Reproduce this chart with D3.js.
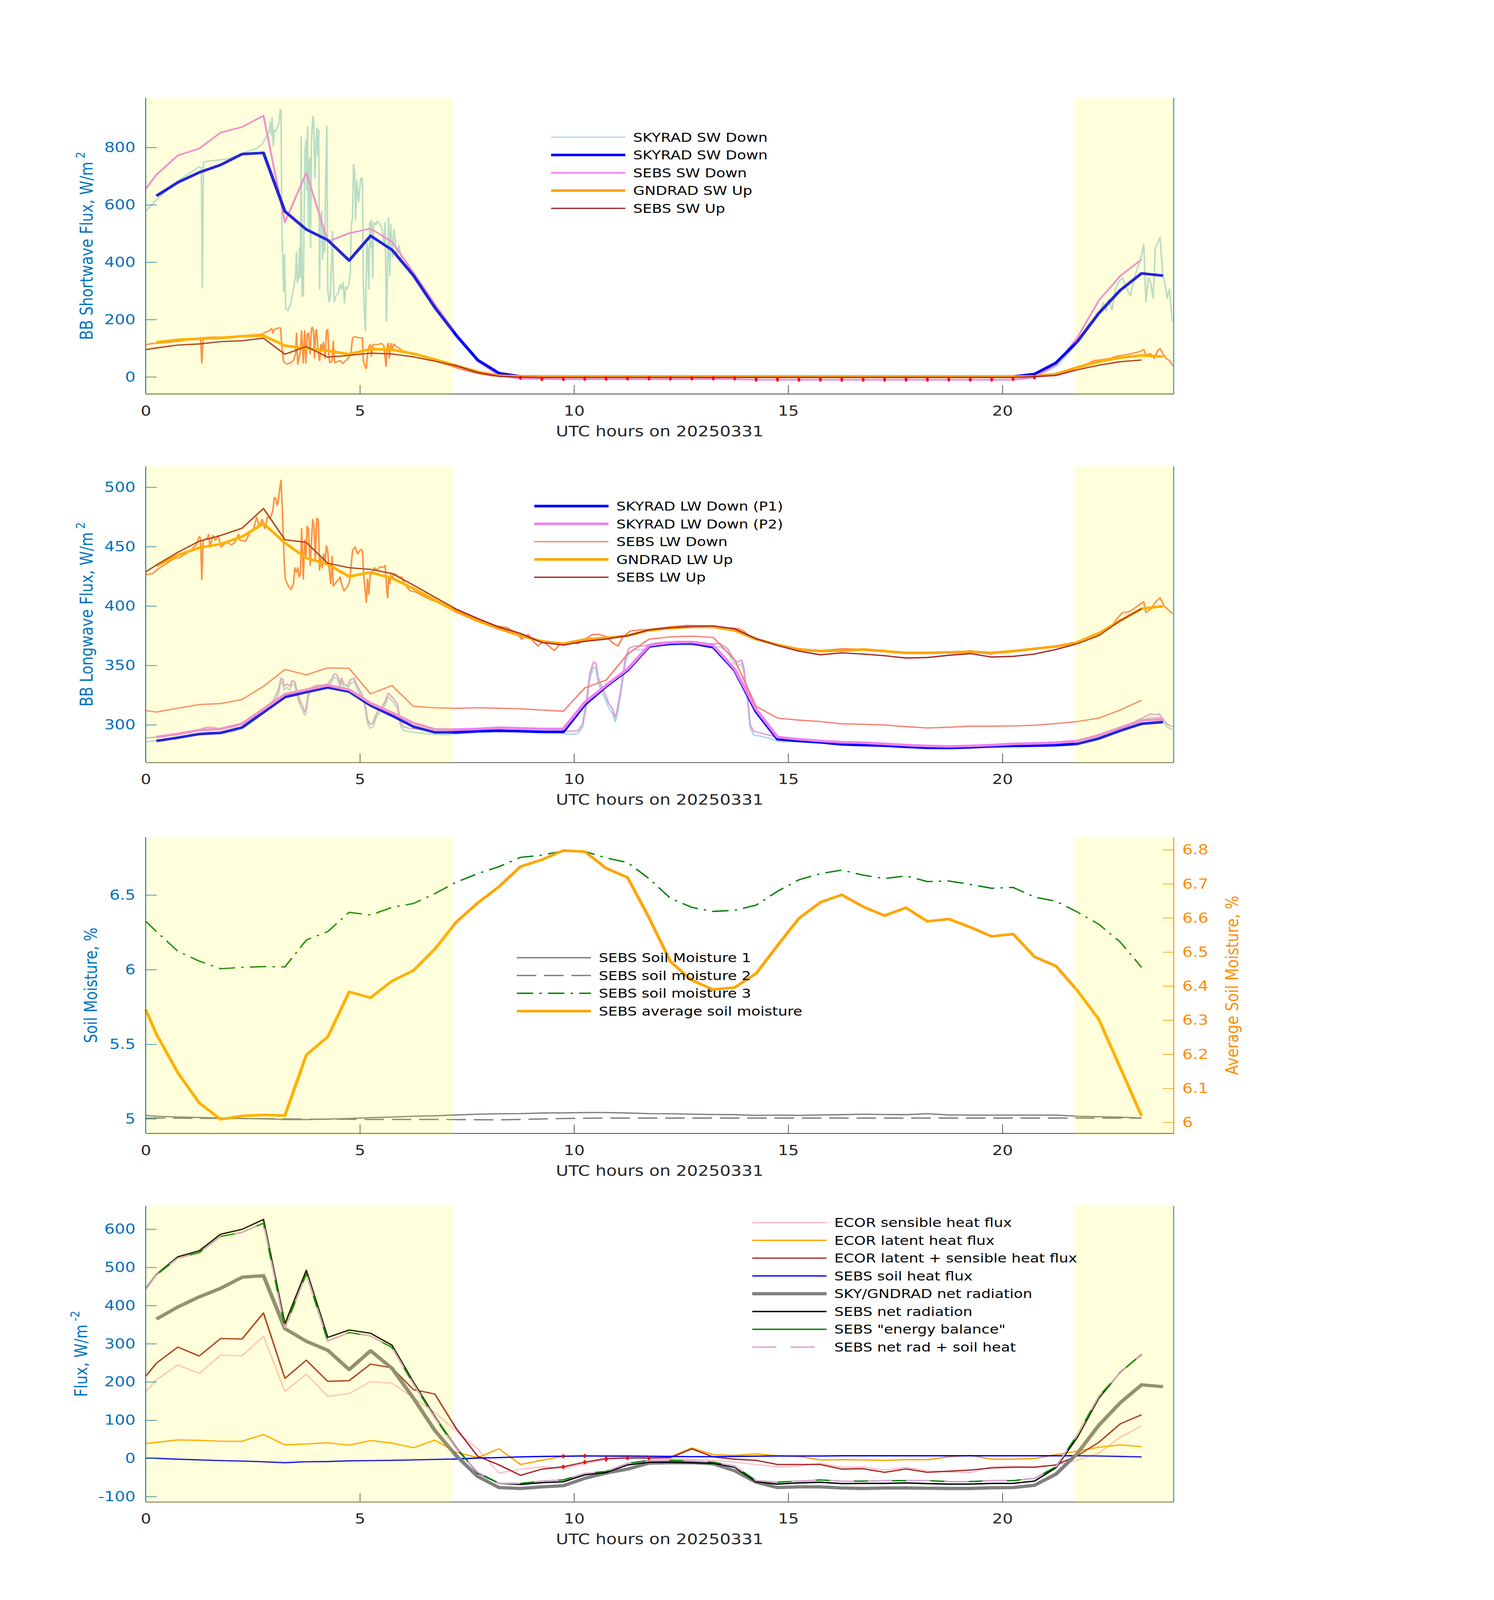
<!DOCTYPE html>
<html>
<head>
<meta charset="utf-8">
<script src="https://cdn.jsdelivr.net/npm/d3@7"></script>
<style>
  html, body { margin: 0; padding: 0; background: #fff; overflow: hidden; }
  text { font-family: "DejaVu Sans", sans-serif; }
</style>
</head>
<body>
<div id="chart"></div>
<script>
// ---------- time grids (UTC hours) ----------
const t30 = [0.25,0.75,1.25,1.75,2.25,2.75,3.25,3.75,4.25,4.75,5.25,5.75,6.25,6.75,7.25,7.75,8.25,8.75,9.25,9.75,10.25,10.75,11.25,11.75,
  12.25,12.75,13.25,13.75,14.25,14.75,15.25,15.75,16.25,16.75,17.25,17.75,18.25,18.75,19.25,19.75,20.25,20.75,21.25,21.75,22.25,22.75,23.25,23.75];
const tSebs = [0,0.25,0.75,1.25,1.75,2.25,2.75,3.25,3.75,4.25,4.75,5.25,5.75,6.25,6.75,7.25,7.75,8.25,8.75,9.25,9.75,10.25,10.75,11.25,11.75,
  12.25,12.75,13.25,13.75,14.25,14.75,15.25,15.75,16.25,16.75,17.25,17.75,18.25,18.75,19.25,19.75,20.25,20.75,21.25,21.75,22.25,22.75,23.25];

const hourTicks = [0, 5, 10, 15, 20];
const shadeSpans = [[0, 7.17], [21.68, 24]];

// ---------- panel 1: shortwave ----------
const swTicks = [0, 200, 400, 600, 800];
const skyradSwDown30 = [631,678,713,739,777,781,577,514,477,406,492,443,354,242,145,59,13,2,
  1,1,1,1,1,1,1,1,1,1,1,1,1,1,1,1,1,1,1,1,1,1,1,10,49,123,222,302,361,353];
const gndradSwUp30 = [121,129,133,136,142,144,109,99,91,79,97,95,81,61,39,18,4,2,
  1,1,1,1,1,1,1,1,1,1,1,1,1,1,1,1,1,1,1,1,1,1,1,2,10,33,53,67,75,71];
const sebsSwDown = [655,705,772,796,852,871,911,539,712,472,501,517,471,364,254,149,55,5,-6,
  -7,-8,-8,-8,-8,-8,-8,-8,-7,-8,-10,-10,-10,-10,-10,-10,-10,-10,-10,-10,-10,-10,-10,-2,43,137,266,352,409];
const sebsSwUp = [95,101,111,115,123,126,135,79,106,69,75,83,80,70,55,39,15,2,-1,
  -2,-2,-2,-2,-2,-2,-2,-2,-2,-2,-2,-2,-2,-2,-2,-2,-2,-2,-2,-2,-2,-2,-2,1,5,25,41,53,59];
const swFlagT = [8.75,9.25,9.75,10.25,10.75,11.25,11.75,12.25,12.75,13.25,13.75,14.25,14.75,15.25,15.75,16.25,16.75,17.25,17.75,18.25,18.75,19.25,19.75,20.25,20.75];
const swFlagV = [-3,-7,-7,-6,-6,-5,-5,-5,-5,-5,-5,-9,-9,-9,-9,-9,-9,-9,-9,-9,-9,-9,-9,-7,-2];
const skyradSwDown1m = [[0.01,579],[0.16,603],[0.35,631],[0.54,655],[0.80,688],[1.05,712],[1.24,732],[1.30,730],[1.32,310],[1.35,748],
  [1.44,752],[1.69,756],[1.92,760],[2.08,768],[2.33,784],[2.59,796],[2.72,812],[2.81,836],[2.88,856],[2.91,888],[2.93,844],[2.95,904],
  [2.98,804],[3.00,860],[3.04,856],[3.07,872],[3.11,884],[3.14,933],[3.16,924],[3.18,515],[3.22,298],[3.24,426],[3.27,238],[3.32,230],
  [3.39,258],[3.45,306],[3.50,354],[3.52,435],[3.54,330],[3.57,346],[3.59,451],[3.61,346],[3.63,836],[3.65,282],[3.68,282],[3.70,579],
  [3.72,796],[3.75,828],[3.76,651],[3.78,872],[3.80,515],[3.83,764],[3.85,451],[3.87,820],[3.90,908],[3.92,900],[3.95,692],[3.98,828],
  [4.00,868],[4.02,772],[4.04,860],[4.06,306],[4.08,547],[4.11,579],[4.13,410],[4.16,515],[4.18,435],[4.20,667],[4.23,876],[4.25,306],
  [4.28,262],[4.31,274],[4.36,507],[4.38,346],[4.40,262],[4.44,282],[4.49,290],[4.54,322],[4.57,306],[4.61,330],[4.64,258],[4.67,314],
  [4.70,306],[4.74,322],[4.78,370],[4.80,531],[4.83,555],[4.85,740],[4.88,712],[4.90,547],[4.93,684],[4.97,611],[5.02,692],[5.06,692],
  [5.08,330],[5.11,218],[5.13,161],[5.16,467],[5.18,451],[5.21,306],[5.23,539],[5.25,451],[5.27,547],[5.30,346],[5.32,539],[5.37,531],
  [5.41,543],[5.47,531],[5.52,515],[5.56,467],[5.59,539],[5.62,194],[5.64,330],[5.67,555],[5.70,354],[5.72,531],[5.76,418],[5.79,515],
  [5.82,483],[5.86,418],[5.91,459],[5.98,402],[6.10,386],[6.26,346],[6.55,286],[6.75,246],[7.00,194],[7.26,145],[7.51,97],[7.77,59],
  [8.02,29],[8.30,10],[8.60,3],[9.00,1],[20.50,1],[20.80,6],[21.10,25],[21.26,37],[21.75,117],[22.03,186],[22.25,218],[22.36,258],
  [22.42,230],[22.47,270],[22.56,234],[22.64,306],[22.71,330],[22.80,346],[22.91,306],[22.99,282],[23.08,346],[23.24,418],[23.30,463],
  [23.35,262],[23.41,346],[23.46,330],[23.52,274],[23.57,451],[23.63,467],[23.68,487],[23.74,362],[23.79,330],[23.85,274],[23.90,306],[23.97,194]];
const gndradSwUp1m = [[0.01,112],[0.16,117],[0.27,117],[0.80,125],[1.25,136],[1.28,137],[1.31,49],[1.34,137],[1.57,139],[1.82,139],
  [2.08,141],[2.40,145],[2.72,149],[2.78,155],[2.88,160],[2.94,169],[2.97,153],[3.00,165],[3.10,171],[3.15,171],[3.18,105],[3.22,53],
  [3.29,45],[3.36,47],[3.45,57],[3.50,81],[3.52,153],[3.55,45],[3.58,65],[3.61,89],[3.64,161],[3.68,49],[3.71,161],[3.74,49],[3.77,149],
  [3.80,153],[3.84,81],[3.87,169],[3.89,173],[3.92,157],[3.94,65],[3.97,161],[3.99,165],[4.03,81],[4.06,57],[4.09,113],[4.12,97],
  [4.15,121],[4.19,65],[4.22,161],[4.25,165],[4.28,65],[4.30,49],[4.35,57],[4.38,125],[4.41,49],[4.47,53],[4.54,57],[4.60,47],[4.67,57],
  [4.73,65],[4.79,81],[4.83,137],[4.89,141],[4.95,137],[5.06,136],[5.08,57],[5.11,41],[5.15,29],[5.18,81],[5.22,109],[5.25,113],
  [5.27,73],[5.31,113],[5.37,113],[5.43,113],[5.50,117],[5.56,109],[5.61,37],[5.64,105],[5.66,117],[5.69,65],[5.72,117],[5.76,97],
  [5.79,115],[5.85,105],[5.91,101],[5.98,93],[6.10,85],[6.30,79],[6.55,69],[6.81,53],[7.07,41],[7.32,29],[7.58,18],[7.83,10],[8.09,4],
  [8.50,1],[20.50,1],[20.90,4],[21.20,9],[21.45,20],[21.69,33],[21.97,45],[22.14,57],[22.36,61],[22.53,65],[22.69,73],[22.86,77],
  [23.02,81],[23.22,89],[23.30,96],[23.35,77],[23.46,81],[23.55,65],[23.63,93],[23.68,99],[23.74,83],[23.82,65],[23.90,57],[23.98,39]];

// ---------- panel 2: longwave ----------
const lwTicks = [300, 350, 400, 450, 500];
const skyradLwP1 = [286.4,289.1,292.2,293.2,297.7,310.5,323.3,327.5,331.4,327.9,316.3,307.7,298.4,293.6,293.6,294.6,
  295.0,294.6,294.0,294.0,316.9,332.4,345.9,365.9,368.2,368.6,365.3,345.9,311.0,287.8,
  286.4,285.3,283.5,282.9,282.4,281.4,280.6,280.4,281.0,281.8,282.2,282.4,282.8,283.9,288.4,295.0,300.8,302.3];
const skyradLwP2 = [289.7,292.2,295.5,296.5,300.8,313.0,325.6,329.5,333.3,329.5,318.2,310.1,301.4,296.1,295.9,296.5,
  297.5,297.0,296.5,296.5,318.8,333.3,346.9,366.7,369.2,369.6,366.7,346.9,313.0,289.7,
  287.8,286.4,285.3,284.9,283.9,282.9,282.2,281.8,282.2,282.9,283.9,284.3,284.9,286.4,291.1,297.5,303.7,304.7];
const sebsLwDown = [312.0,310.7,314.0,317.0,317.8,321.3,332.4,346.5,342.0,347.9,347.5,326.0,333.0,315.5,314.3,313.8,314.3,
  313.9,313.4,312.4,311.4,331.0,337.6,359.5,372.1,374.0,374.6,373.5,354.7,315.5,305.6,
  303.9,302.7,300.8,300.4,299.8,298.4,297.3,297.9,298.8,298.8,299.0,299.6,301.0,302.7,305.6,312.4,320.7];
const sebsLwUp = [428.7,434.5,445.2,454.5,459.3,465.5,482.0,455.8,453.5,436.0,432.2,430.8,427.3,417.6,407.4,397.3,389.5,
  382.2,376.9,369.2,367.1,370.2,372.1,375.0,379.9,381.8,382.8,383.3,380.8,372.5,366.7,
  362.0,358.9,360.5,359.5,358.1,356.2,356.6,358.5,359.9,357.0,357.6,359.5,363.4,368.2,375.0,387.6,397.7];
const gndradLwUp = [433.7,442.8,449.0,452.1,458.3,469.4,453.1,440.3,435.1,424.8,428.3,423.4,414.7,405.0,395.3,387.6,
  380.8,375.0,370.2,368.2,371.7,373.1,375.0,379.5,381.4,382.4,382.4,379.5,372.1,367.3,
  363.4,362.0,362.4,363.4,362.0,360.5,360.5,360.9,361.4,360.5,362.0,364.0,365.9,369.2,376.9,387.6,397.7,399.8];
const gndradLwUp1m = [[0.01,426.4],[0.16,427.3],[0.29,431.2],[0.42,434.1],[0.54,437.0],[0.67,439.9],[0.80,440.9],[0.93,443.8],
  [1.05,446.7],[1.18,451.5],[1.25,458.3],[1.28,457.4],[1.31,422.5],[1.34,455.4],[1.44,457.4],[1.47,460.3],[1.50,449.6],[1.57,459.3],
  [1.63,455.4],[1.69,459.3],[1.76,449.6],[1.82,451.5],[1.89,453.5],[2.01,451.5],[2.08,453.5],[2.17,460.3],[2.20,455.4],[2.33,454.5],
  [2.40,459.3],[2.46,463.2],[2.52,465.1],[2.59,474.8],[2.65,467.1],[2.72,472.9],[2.78,465.1],[2.84,474.8],[2.91,473.8],[2.97,480.6],
  [3.00,491.3],[3.04,490.3],[3.07,484.5],[3.10,490.3],[3.13,499.0],[3.16,505.8],[3.20,470.9],[3.23,439.9],[3.26,422.5],[3.32,417.6],
  [3.39,413.8],[3.45,418.6],[3.48,432.2],[3.52,428.3],[3.55,432.2],[3.58,424.4],[3.61,426.4],[3.64,465.1],[3.68,422.5],[3.71,455.4],
  [3.74,441.9],[3.77,467.1],[3.80,465.1],[3.84,434.1],[3.87,453.5],[3.90,472.9],[3.93,467.1],[3.96,438.0],[3.99,473.8],[4.03,472.9],
  [4.06,430.2],[4.09,439.9],[4.12,432.2],[4.16,443.8],[4.19,438.0],[4.22,450.6],[4.25,445.7],[4.28,432.2],[4.32,418.6],[4.35,441.9],
  [4.38,416.7],[4.44,419.6],[4.51,422.5],[4.54,424.4],[4.57,418.6],[4.63,412.8],[4.70,415.7],[4.76,420.5],[4.83,446.7],[4.89,449.6],
  [4.95,443.8],[5.02,447.7],[5.06,446.7],[5.08,432.2],[5.11,418.6],[5.15,403.1],[5.18,422.5],[5.21,409.9],[5.24,426.4],[5.27,426.4],
  [5.34,432.2],[5.40,430.2],[5.47,433.1],[5.53,432.2],[5.59,434.1],[5.63,412.8],[5.65,407.0],[5.67,424.4],[5.70,418.6],[5.72,426.4],
  [5.75,422.5],[5.79,427.3],[5.85,426.4],[5.91,424.4],[5.98,424.4],[6.04,418.6],[6.17,412.8],[6.30,411.8],[6.55,407.0],[6.87,402.1],
  [7.19,397.3],[7.51,392.4],[7.83,387.6],[8.09,383.7],[8.44,381.8],[8.52,379.8],[8.66,377.9],[8.77,372.1],[8.93,376.0],[9.05,370.2],
  [9.16,366.3],[9.27,370.2],[9.38,367.2],[9.54,362.4],[9.65,367.2],[9.76,368.2],[9.93,370.2],[10.09,368.2],[10.26,372.1],[10.43,376.0],
  [10.59,376.0],[10.76,374.0],[10.89,369.2],[11.03,366.3],[11.14,374.0],[11.31,378.9],[11.53,379.8],[11.75,380.2],[12.19,382.2],
  [12.64,383.7],[13.08,383.3],[13.52,381.8],[13.85,380.8],[13.96,378.9],[14.13,373.1],[14.29,371.1],[14.62,368.2],[15.18,364.3],
  [15.73,362.4],[16.28,364.0],[16.83,363.4],[17.39,361.4],[17.94,360.5],[18.49,360.9],[19.04,361.4],[19.26,362.4],[19.48,360.5],
  [19.71,359.5],[19.93,361.4],[20.26,362.4],[20.70,364.0],[21.25,366.3],[21.69,369.2],[22.14,376.0],[22.53,381.8],[22.64,387.6],
  [22.80,394.4],[22.97,395.3],[23.13,399.2],[23.24,402.1],[23.30,403.5],[23.35,394.4],[23.46,397.3],[23.57,403.1],[23.68,407.0],
  [23.77,400.2],[23.86,397.3],[23.97,393.4]];
const skyradLwP2_1m = [[0.01,288.8],[0.27,289.7],[0.80,292.6],[1.25,295.5],[1.37,297.5],[1.50,298.1],[1.76,296.5],[2.08,298.4],
  [2.27,301.4],[2.46,306.2],[2.72,313.0],[2.97,319.8],[3.10,329.5],[3.16,339.2],[3.20,338.2],[3.23,332.4],[3.29,334.3],[3.36,332.4],
  [3.42,337.2],[3.48,336.2],[3.55,325.6],[3.61,319.8],[3.68,314.0],[3.71,311.0],[3.74,313.0],[3.77,319.8],[3.80,327.5],[3.87,331.4],
  [3.99,333.3],[4.12,333.3],[4.25,334.3],[4.35,339.2],[4.41,343.0],[4.47,342.0],[4.54,334.3],[4.57,339.2],[4.63,334.3],[4.70,332.4],
  [4.79,338.2],[4.86,339.2],[4.92,334.3],[4.99,329.5],[5.05,325.6],[5.11,319.8],[5.18,304.3],[5.24,300.4],[5.31,301.4],[5.37,308.1],
  [5.43,312.0],[5.50,314.0],[5.59,319.8],[5.66,326.6],[5.72,324.6],[5.79,321.7],[5.88,316.9],[5.95,302.3],[6.01,298.4],[6.17,296.9],
  [6.43,296.1],[6.68,294.6],[6.94,293.6],[7.19,294.6],[7.51,295.0],[7.83,295.5],[8.15,296.1],[8.55,297.5],[9.10,296.5],[9.65,296.1],
  [9.87,294.6],[10.09,295.0],[10.20,300.4],[10.29,319.8],[10.37,343.0],[10.45,352.7],[10.51,351.7],[10.56,340.1],[10.65,331.4],
  [10.73,325.6],[10.81,317.9],[10.89,314.0],[10.96,306.2],[11.00,311.0],[11.09,329.5],[11.20,356.6],[11.29,364.7],[11.42,366.3],
  [11.64,366.3],[11.81,368.2],[11.97,369.2],[12.42,370.2],[12.86,369.8],[13.19,368.2],[13.41,368.2],[13.58,364.3],[13.69,357.6],
  [13.74,354.7],[13.83,352.7],[13.91,354.7],[13.96,348.8],[14.05,323.6],[14.11,300.4],[14.19,294.6],[14.40,292.6],[14.62,290.7],
  [14.75,288.4],[15.18,287.2],[15.73,286.4],[16.28,284.9],[16.83,284.5],[17.39,283.7],[17.94,282.5],[18.49,282.2],[19.04,281.9],
  [19.59,282.9],[20.15,283.7],[20.70,284.1],[21.25,284.9],[21.81,286.8],[22.36,292.6],[22.91,299.4],[23.24,305.2],[23.46,309.1],
  [23.57,308.5],[23.66,309.1],[23.74,305.2],[23.85,300.4],[23.97,298.4]];
const skyradLwP1_1m = [[0.01,285.5],[0.27,286.9],[0.80,289.4],[1.25,292.0],[1.50,294.0],[1.76,292.5],[2.08,294.5],[2.27,297.5],
  [2.46,302.0],[2.72,309.0],[2.97,316.0],[3.10,326.0],[3.16,336.5],[3.20,335.0],[3.23,329.5],[3.29,331.5],[3.36,329.0],[3.42,334.0],
  [3.48,333.0],[3.55,322.0],[3.61,316.0],[3.68,310.5],[3.71,308.0],[3.74,310.0],[3.77,316.5],[3.80,324.5],[3.87,328.5],[3.99,330.5],
  [4.12,330.0],[4.25,331.0],[4.35,336.5],[4.41,340.0],[4.47,339.0],[4.54,331.5],[4.57,336.0],[4.63,331.5],[4.70,329.5],[4.79,335.0],
  [4.86,336.5],[4.92,331.5],[4.99,326.5],[5.05,322.5],[5.11,316.5],[5.18,301.0],[5.24,297.0],[5.31,298.5],[5.37,305.0],[5.43,309.0],
  [5.50,311.0],[5.59,316.5],[5.66,323.5],[5.72,321.5],[5.79,318.5],[5.88,313.5],[5.95,299.0],[6.01,295.5],[6.17,294.0],[6.43,293.0],
  [6.68,292.0],[6.94,291.5],[7.19,292.0],[7.51,293.0],[7.83,293.5],[8.15,294.0],[8.55,294.5],[9.10,293.5],[9.65,293.0],[9.87,292.0],
  [10.09,292.5],[10.20,298.0],[10.29,316.5],[10.37,339.0],[10.45,348.5],[10.51,347.5],[10.56,336.0],[10.65,327.5],[10.73,321.5],
  [10.81,314.0],[10.89,310.0],[10.96,302.5],[11.00,307.0],[11.09,325.5],[11.20,352.5],[11.29,361.0],[11.42,363.0],[11.64,363.5],
  [11.81,365.5],[11.97,366.5],[12.42,367.5],[12.86,367.0],[13.19,365.5],[13.41,365.5],[13.58,361.5],[13.69,354.5],[13.74,351.5],
  [13.83,349.5],[13.91,351.5],[13.96,345.5],[14.05,320.5],[14.11,297.5],[14.19,291.5],[14.40,290.0],[14.62,288.0],[14.75,286.0],
  [15.18,285.5],[15.73,284.5],[16.28,283.0],[16.83,282.5],[17.39,282.0],[17.94,281.0],[18.49,280.5],[19.04,280.3],[19.59,281.3],
  [20.15,282.0],[20.70,282.5],[21.25,283.3],[21.81,285.0],[22.36,290.5],[22.91,297.5],[23.24,303.0],[23.46,306.5],[23.57,306.0],
  [23.66,306.5],[23.74,303.0],[23.85,298.0],[23.97,296.0]];

// ---------- panel 3: soil moisture ----------
const soilTicks = [5, 5.5, 6, 6.5];
const soilAvgTicks = [6, 6.1, 6.2, 6.3, 6.4, 6.5, 6.6, 6.7, 6.8];
const sebsSoil1 = [5.023,5.017,5.012,5.009,5.005,5.002,5.000,4.995,4.995,4.998,5.002,5.008,5.012,5.017,5.020,5.026,5.031,
  5.034,5.035,5.039,5.040,5.042,5.042,5.039,5.035,5.034,5.031,5.029,5.028,5.023,5.025,5.023,5.026,5.028,5.031,5.029,5.028,
  5.034,5.026,5.025,5.025,5.025,5.025,5.025,5.017,5.014,5.011,5.006];
const sebsSoil2 = [5.005,5.005,5.004,5.003,5.003,5.002,5.001,5.000,4.998,4.997,4.997,4.996,4.996,4.996,4.996,4.995,4.994,
  4.993,4.996,4.999,5.002,5.004,5.005,5.005,5.005,5.005,5.005,5.005,5.005,5.005,5.005,5.005,5.005,5.005,5.005,5.005,5.005,
  5.005,5.005,5.005,5.005,5.005,5.005,5.005,5.005,5.005,5.005,5.005];
const sebsSoil3 = [6.324,6.255,6.123,6.057,6.006,6.015,6.020,6.018,6.198,6.255,6.384,6.366,6.417,6.443,6.509,6.586,6.643,
  6.690,6.752,6.767,6.795,6.792,6.748,6.718,6.610,6.478,6.417,6.390,6.397,6.432,6.525,6.602,6.643,6.667,6.633,6.610,6.628,
  6.590,6.594,6.571,6.545,6.551,6.486,6.458,6.386,6.304,6.185,6.015];
const sebsSoilAvg = [6.331,6.259,6.146,6.057,6.009,6.019,6.022,6.020,6.198,6.251,6.383,6.366,6.415,6.446,6.509,6.588,6.644,
  6.692,6.751,6.771,6.798,6.795,6.746,6.719,6.601,6.472,6.417,6.390,6.396,6.437,6.519,6.599,6.646,6.668,6.633,6.607,6.630,
  6.590,6.597,6.573,6.546,6.553,6.486,6.459,6.387,6.303,6.161,6.019];

// ---------- panel 4: surface energy fluxes ----------
const fluxTicks = [-100, 0, 100, 200, 300, 400, 500, 600];
const ecorSensible = [174.3,205.7,244.3,222.0,270.2,268.4,319.6,175.5,220.2,162.3,169.5,200.9,196.6,158.7,120.1,71.8,24.8,
  -38.5,-28.3,-22.2,-26.4,-14.4,-2.3,1.9,0.7,-1.1,-2.3,-5.3,-10.1,-16.2,-22.2,-20.4,-12.6,-23.4,-22.2,-30.7,-23.4,
  -32.5,-35.5,-37.3,-22.2,-20.4,-22.2,-17.4,-5.3,14.0,55.0,85.1];
const ecorLatent = [38.7,41.7,48.3,47.1,44.7,44.7,62.2,35.1,37.5,40.5,34.5,46.5,39.9,27.8,47.7,15.8,1.9,
  24.8,-16.2,-5.3,5.5,6.7,5.5,3.7,2.5,3.7,27.2,9.7,7.9,11.6,6.7,4.9,-4.2,-3.5,-4.2,-5.3,-3.5,
  -3.5,3.7,7.9,-2.3,-2.3,-0.5,9.7,18.8,29.0,35.1,30.9];
const ecorSum = [214.7,249.1,291.3,267.8,313.6,312.4,380.5,209.3,256.9,201.5,203.3,246.7,237.0,179.8,168.3,77.9,5.5,
  -17.4,-44.5,-28.3,-22.2,-10.1,-0.5,0.7,0.7,1.9,24.8,3.7,-2.3,-5.3,-16.2,-16.2,-16.2,-28.3,-27.1,-36.7,-27.7,
  -36.7,-33.7,-30.7,-25.2,-23.4,-23.4,-17.4,6.7,41.7,90.0,114.1];
const sebsSoilHeat = [0.7,0.0,-2.3,-4.1,-6.0,-7.2,-9.0,-11.4,-9.0,-8.4,-6.6,-6.0,-5.3,-4.1,-2.9,-1.7,0.7,
  1.9,3.7,4.9,5.5,6.1,6.1,6.1,5.5,4.9,4.3,4.3,4.9,5.5,6.1,6.1,6.1,6.7,6.7,6.7,6.7,
  6.7,6.7,6.7,6.7,6.7,6.7,6.7,6.7,6.1,4.9,3.7];
const skyGndNet = [364.3,396.2,422.7,445.0,474.0,478.2,339.5,306.4,282.9,232.2,281.7,235.8,157.5,73.0,6.7,-47.5,
  -76.5,-78.9,-74.7,-71.7,-52.4,-38.5,-28.3,-12.6,-11.4,-11.4,-14.4,-32.5,-62.6,-76.5,-74.7,-74.7,-77.7,-78.9,-77.7,-77.7,
  -78.3,-78.9,-78.9,-77.1,-76.5,-70.5,-41.5,12.8,86.3,145.4,192.4,187.6];
const sebsNetRad = [443.8,481.2,527.6,543.3,586.7,599.4,625.3,351.6,492.0,316.6,335.9,327.5,296.1,199.7,109.2,27.8,-38.5,
  -65.6,-68.6,-63.8,-61.4,-43.3,-37.3,-17.4,-10.2,-10.2,-11.4,-13.2,-23.4,-61.4,-67.4,-64.4,-62.6,-66.2,-65.6,-65.6,-64.4,
  -66.2,-67.4,-67.4,-65.6,-65.6,-59.6,-24.6,55.0,157.5,225.0,272.0];
const sebsEnergyBal = [442.0,480.0,524.0,538.5,580.7,591.6,615.7,341.3,483.0,307.0,329.3,320.2,290.1,194.8,106.2,26.0,-36.7,
  -65.6,-65.6,-59.6,-56.6,-39.7,-34.3,-13.2,-5.3,-5.3,-6.5,-10.1,-20.4,-58.4,-62.6,-59.6,-56.6,-59.6,-59.6,-58.4,-58.4,
  -58.4,-60.8,-60.8,-58.4,-58.4,-52.4,-22.2,61.0,162.3,223.8,273.2];
const sebsNetRadSoil = [442.0,480.0,524.0,538.5,580.7,591.6,615.7,341.3,483.0,307.0,329.3,320.2,290.1,194.8,106.2,26.0,-36.7,
  -65.6,-65.6,-59.6,-56.6,-39.7,-34.3,-13.2,-5.3,-5.3,-6.5,-10.1,-20.4,-58.4,-62.6,-59.6,-56.6,-59.6,-59.6,-58.4,-58.4,
  -58.4,-60.8,-60.8,-58.4,-58.4,-52.4,-22.2,61.0,162.3,223.8,273.2];
const fluxFlagT = [9.75, 9.75, 10.25, 10.25, 10.75, 10.75, 11.25, 11.75];
const fluxFlagV = [5.5, -22.2, 6.1, -10.1, -0.5, -2.9, 0.7, 0.7];

// ---------- layout ----------
const W = 3825, H = 4875;
const X0 = 373, X1 = 3005, PH = 902;
const axisBlue = "#0072BD", axisDark = "#262626", rightOrange = "#FF8C00";
const xlabel = "UTC hours on 20250331";

const x = d3.scaleLinear().domain([0, 24]).range([X0, X1]);
const pts = (ts, vs) => ts.map((t, i) => [t, vs[i]]);

// the window may be shorter than the figure; squeeze the figure to fit it whole
const shownH = Math.min(H, window.innerHeight || H);
const svg = d3.select("#chart").append("svg")
  .attr("width", W).attr("height", shownH)
  .attr("viewBox", `0 0 ${W} ${H}`)
  .attr("preserveAspectRatio", "none")
  .style("display", "block")
  .style("background", "#fff");

function drawLine(g, data, y, s) {
  g.append("path")
    .datum(data)
    .attr("fill", "none")
    .attr("stroke", s.color)
    .attr("stroke-width", s.w)
    .attr("stroke-linejoin", "round")
    .attr("stroke-dasharray", s.dash || null)
    .attr("d", d3.line().x(d => x(d[0])).y(d => y(d[1])));
}

function drawFlags(g, ts, vs, y) {
  g.selectAll(null).data(ts).join("ellipse")
    .attr("cx", d => x(d)).attr("cy", (d, i) => y(vs[i]))
    .attr("rx", 3.5).attr("ry", 6.5).attr("fill", "red");
}

function styleAxis(sel, color, labelColor) {
  sel.selectAll("path").attr("stroke", color).attr("stroke-width", 2.5);
  sel.selectAll("line").attr("stroke", color).attr("stroke-width", 2);
  sel.selectAll("text").attr("fill", labelColor).attr("font-size", 42)
    .attr("font-family", "DejaVu Sans, sans-serif");
}

function frame(top, y, yTicks, label, sup, labelX, rightColor) {
  const bottom = top + PH;
  // bottom axis
  const gx = svg.append("g").attr("transform", `translate(0,${bottom})`)
    .call(d3.axisBottom(x).tickValues(hourTicks).tickSize(-27).tickSizeOuter(0).tickPadding(36).tickFormat(d => String(d)));
  styleAxis(gx, "#555", axisDark);
  gx.selectAll(".tick").filter(d => d === 0).select("line").remove();
  // left axis
  const gy = svg.append("g").attr("transform", `translate(${X0},0)`)
    .call(d3.axisLeft(y).tickValues(yTicks).tickSize(-28).tickSizeOuter(0).tickPadding(26).tickFormat(d => String(d)));
  styleAxis(gy, axisBlue, axisBlue);
  gy.select("path").attr("d", `M0,${top}V${bottom}`);
  // right edge
  if (rightColor) {
    svg.append("line").attr("x1", X1).attr("x2", X1).attr("y1", top).attr("y2", bottom)
      .attr("stroke", rightColor).attr("stroke-width", 2);
  }
  // labels
  svg.append("text").attr("x", (X0 + X1) / 2).attr("y", bottom + 129)
    .attr("text-anchor", "middle").attr("font-size", 44).attr("fill", axisDark).text(xlabel);
  const t = svg.append("text")
    .attr("transform", `translate(${labelX},${top + PH / 2}) rotate(-90)`)
    .attr("text-anchor", "middle").attr("font-size", 44).attr("fill", axisBlue)
    .text(label);
  if (sup) t.append("tspan").attr("dx", 10).attr("dy", -20).attr("font-size", 32).text(sup);
}

function shade(top) {
  svg.append("g").selectAll("rect").data(shadeSpans).join("rect")
    .attr("x", d => x(d[0])).attr("width", d => x(d[1]) - x(d[0]))
    .attr("y", top).attr("height", PH + 5)
    .attr("fill", "#ffff00").attr("opacity", 0.14);
}

function legend(left, top, items) {
  const g = svg.append("g").attr("transform", `translate(${left},${top})`);
  items.forEach((it, i) => {
    const yy = i * 54.2;
    g.append("line").attr("x1", 0).attr("x2", 190).attr("y1", yy).attr("y2", yy)
      .attr("stroke", it.color).attr("stroke-width", it.w).attr("stroke-dasharray", it.dash || null);
    g.append("text").attr("x", 210).attr("y", yy).attr("dy", "0.36em")
      .attr("font-size", 38).attr("fill", "#000").text(it.label);
  });
}

// ================= panel 1 =================
{
  const top = 298;
  const y = d3.scaleLinear().domain([-59, 973]).range([top + PH, top]);
  const g = svg.append("g");
  const st = {
    sky1m: { color: "#add8e6", w: 4 },
    sky30: { color: "#0000ff", w: 8 },
    sebsDn: { color: "#ee82ee", w: 5 },
    gnd1m: { color: "#ff7f50", w: 4 },
    gnd30: { color: "#ffa500", w: 8 },
    sebsUp: { color: "#a52a2a", w: 4 }
  };
  drawLine(g, skyradSwDown1m, y, st.sky1m);
  drawLine(g, pts(tSebs, sebsSwDown), y, st.sebsDn);
  drawLine(g, pts(t30, skyradSwDown30), y, st.sky30);
  drawLine(g, gndradSwUp1m, y, st.gnd1m);
  drawLine(g, pts(t30, gndradSwUp30), y, st.gnd30);
  drawLine(g, pts(tSebs, sebsSwUp), y, st.sebsUp);
  drawFlags(g, swFlagT, swFlagV, y);
  frame(top, y, swTicks, "BB Shortwave Flux, W/m", "2", 237, axisBlue);
  shade(top);
  legend(1411, 418, [
    { label: "SKYRAD SW Down", ...st.sky1m },
    { label: "SKYRAD SW Down", ...st.sky30 },
    { label: "SEBS SW Down", ...st.sebsDn },
    { label: "GNDRAD SW Up", ...st.gnd30 },
    { label: "SEBS SW Up", ...st.sebsUp }
  ]);
}

// ================= panel 2 =================
{
  const top = 1421;
  const y = d3.scaleLinear().domain([268.3, 517.5]).range([top + PH, top]);
  const g = svg.append("g");
  const st = {
    p1: { color: "#0000ff", w: 8 },
    p2: { color: "#ee82ee", w: 8 },
    sebsDn: { color: "#fa8072", w: 4 },
    gnd30: { color: "#ffa500", w: 8 },
    sebsUp: { color: "#a52a2a", w: 4 }
  };
  drawLine(g, gndradLwUp1m, y, { color: "#ff7f50", w: 4 });
  drawLine(g, skyradLwP1_1m, y, { color: "#add8e6", w: 4 });
  drawLine(g, skyradLwP2_1m, y, { color: "#d8a0d8", w: 4 });
  drawLine(g, pts(t30, skyradLwP1), y, st.p1);
  drawLine(g, pts(t30, skyradLwP2), y, st.p2);
  drawLine(g, pts(tSebs, sebsLwDown), y, st.sebsDn);
  drawLine(g, pts(t30, gndradLwUp), y, st.gnd30);
  drawLine(g, pts(tSebs, sebsLwUp), y, st.sebsUp);
  frame(top, y, lwTicks, "BB Longwave Flux, W/m", "2", 237, axisBlue);
  shade(top);
  legend(1368, 1542, [
    { label: "SKYRAD LW Down (P1)", ...st.p1 },
    { label: "SKYRAD LW Down (P2)", ...st.p2 },
    { label: "SEBS LW Down", ...st.sebsDn },
    { label: "GNDRAD LW Up", ...st.gnd30 },
    { label: "SEBS LW Up", ...st.sebsUp }
  ]);
}

// ================= panel 3 =================
{
  const top = 2551;
  const y = d3.scaleLinear().domain([4.903, 6.887]).range([top + PH, top]);
  const yR = d3.scaleLinear().domain([5.968, 6.837]).range([top + PH, top]);
  const g = svg.append("g");
  const st = {
    s1: { color: "#808080", w: 4 },
    s2: { color: "#808080", w: 4, dash: "50,20" },
    s3: { color: "#008000", w: 4, dash: "42,16,6,16" },
    avg: { color: "#ffa500", w: 8 }
  };
  drawLine(g, pts(tSebs, sebsSoil1), y, st.s1);
  drawLine(g, pts(tSebs, sebsSoil2), y, st.s2);
  drawLine(g, pts(tSebs, sebsSoil3), y, st.s3);
  drawLine(g, pts(tSebs, sebsSoilAvg), yR, st.avg);
  frame(top, y, soilTicks, "Soil Moisture, %", null, 248, null);
  const gr = svg.append("g").attr("transform", `translate(${X1},0)`)
    .call(d3.axisRight(yR).tickValues(soilAvgTicks).tickSize(-28).tickSizeOuter(0).tickPadding(22).tickFormat(d => String(d)));
  styleAxis(gr, rightOrange, rightOrange);
  gr.select("path").attr("d", `M0,${top}V${top + PH}`);
  svg.append("text")
    .attr("transform", `translate(3170,${top + PH / 2}) rotate(-90)`)
    .attr("text-anchor", "middle").attr("font-size", 44).attr("fill", rightOrange)
    .text("Average Soil Moisture, %");
  shade(top);
  legend(1323, 2918, [
    { label: "SEBS Soil Moisture 1", ...st.s1 },
    { label: "SEBS soil moisture 2", ...st.s2 },
    { label: "SEBS soil moisture 3", ...st.s3 },
    { label: "SEBS average soil moisture", ...st.avg }
  ]);
}

// ================= panel 4 =================
{
  const top = 3674;
  const y = d3.scaleLinear().domain([-114, 661]).range([top + PH, top]);
  const g = svg.append("g");
  const st = {
    sens: { color: "#ffc0cb", w: 4 },
    lat: { color: "#ffa500", w: 4 },
    sum: { color: "#a52a2a", w: 4 },
    soil: { color: "#0000ff", w: 4 },
    net: { color: "#808080", w: 10 },
    sebsNet: { color: "#000000", w: 4 },
    bal: { color: "#008000", w: 4 },
    netSoil: { color: "#dda0dd", w: 4, dash: "62,36" }
  };
  drawLine(g, pts(tSebs, ecorSensible), y, st.sens);
  drawLine(g, pts(tSebs, ecorLatent), y, st.lat);
  drawLine(g, pts(tSebs, ecorSum), y, st.sum);
  drawLine(g, pts(tSebs, sebsSoilHeat), y, st.soil);
  drawLine(g, pts(t30, skyGndNet), y, st.net);
  drawLine(g, pts(tSebs, sebsNetRad), y, st.sebsNet);
  drawLine(g, pts(tSebs, sebsEnergyBal), y, st.bal);
  drawLine(g, pts(tSebs, sebsNetRadSoil), y, st.netSoil);
  drawFlags(g, fluxFlagT, fluxFlagV, y);
  frame(top, y, fluxTicks, "Flux, W/m", "-2", 223, axisBlue);
  shade(top);
  legend(1926, 3725, [
    { label: "ECOR sensible heat flux", ...st.sens },
    { label: "ECOR latent heat flux", ...st.lat },
    { label: "ECOR latent + sensible heat flux", ...st.sum },
    { label: "SEBS soil heat flux", ...st.soil },
    { label: "SKY/GNDRAD net radiation", ...st.net },
    { label: "SEBS net radiation", ...st.sebsNet },
    { label: "SEBS \"energy balance\"", ...st.bal },
    { label: "SEBS net rad + soil heat", ...st.netSoil }
  ]);
}
</script>
</body>
</html>
